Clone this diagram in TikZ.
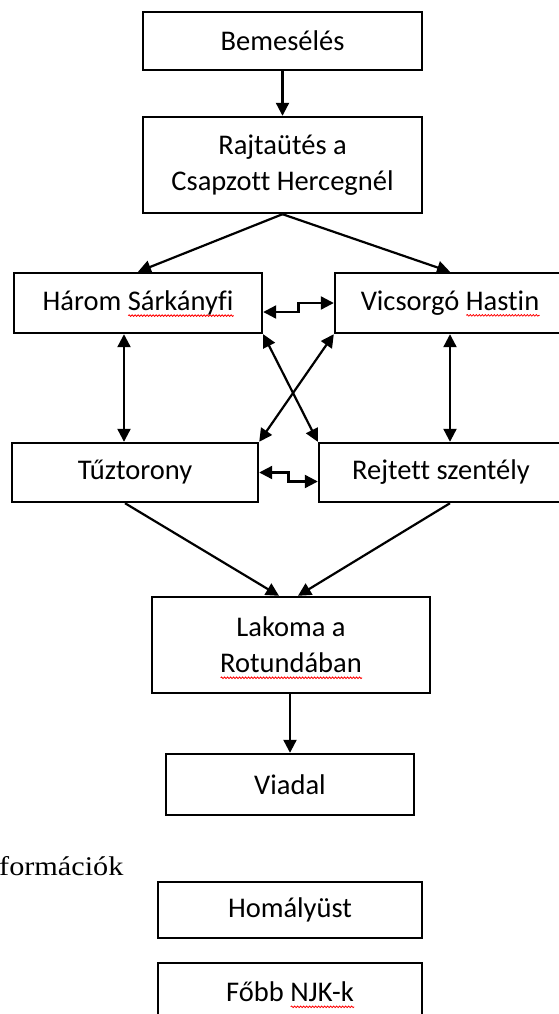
\documentclass[tikz,border=0pt]{standalone}
\usepackage{fontspec}
\usepackage{graphicx}
\setmainfont[Ligatures=NoCommon]{Carlito}
\newfontfamily\seriffnt{Liberation Serif}
\usetikzlibrary{arrows.meta,calc,decorations.pathmorphing}
\newsavebox\spbox
\newcommand\spellerr[1]{\sbox\spbox{#1}\rlap{\smash{\tikz[baseline=0pt]\draw[red,line width=0.8pt,decorate,decoration={snake,amplitude=0.8pt,segment length=3pt}] (0pt,-5pt) -- (\the\wd\spbox,-5pt);}}\usebox\spbox}
\begin{document}
\begin{tikzpicture}[x=1pt,y=-1pt,
  box/.style={draw,line width=2.4pt,inner sep=0pt,align=center,font=\fontsize{28.5}{36}\selectfont},
  >={Triangle[length=13pt,width=13pt]},
  conn/.style={line width=2.2pt,->},
  bicon/.style={line width=2.2pt,<->}]
\path[use as bounding box] (0,0) rectangle (559,1014);
\clip (0,0) rectangle (559,1014);
\node[box,minimum width=279pt,minimum height=58pt] (bem) at (282.5,41) {Bemesélés};
\node[box,minimum width=279pt,minimum height=96pt] (raj) at (282.5,165) {Rajtaütés a\\Csapzott Hercegnél};
\node[box,minimum width=248pt,minimum height=60pt] (har) at (138,303) {Három \spellerr{Sárkányfi}};
\node[box,minimum width=230pt,minimum height=60pt] (vic) at (450,303) {Vicsorgó \spellerr{Hastin}};
\node[box,minimum width=246pt,minimum height=59pt] (tuz) at (135,472.5) {Tűztorony};
\node[box,minimum width=244pt,minimum height=59pt] (rej) at (441,472.5) {Rejtett szentély};
\node[box,minimum width=278pt,minimum height=96pt] (lak) at (291,645) {Lakoma a\\\spellerr{Rotundában}};
\node[box,minimum width=248pt,minimum height=61pt] (via) at (290,784.5) {Viadal};
\node[anchor=base west,inner sep=0pt,font=\seriffnt\fontsize{27}{30}\selectfont] (inf) at (-1,875) {\scalebox{1.12}[1]{formációk}};
\node[box,minimum width=264pt,minimum height=56pt] (hom) at (290,910) {Homályüst};
\node[box,minimum width=264pt,minimum height=58pt] (fob) at (290,992) {Főbb \spellerr{NJK-k}};
\draw[conn] (bem) -- (raj);
\draw[conn] (raj.south) -- (har.north);
\draw[conn] (raj.south) -- (vic.north);
\coordinate (m1) at ($(har.east)!0.5!(vic.west)$);
\draw[bicon] ([yshift=-9pt]har.east) -| (m1) -- (vic.west);
\draw[bicon] ([xshift=-14pt]har.south) -- ([xshift=-14pt]har.south |- tuz.north);
\draw[bicon] (vic.south) -- (vic.south |- rej.north);
\draw[bicon] (har.south east) -- (rej.north west);
\draw[bicon] (vic.south west) -- (tuz.north east);
\coordinate (m2) at ($(tuz.east)!0.5!(rej.west)$);
\draw[bicon] (tuz.east) -- (m2) |- ([yshift=-9pt]rej.west);
\draw[conn] ([xshift=-10pt]tuz.south) -- ([xshift=-12pt]lak.north);
\draw[conn] ([xshift=9pt]rej.south) -- ([xshift=7pt]lak.north);
\draw[conn] (via.north |- lak.south) -- (via.north);
\end{tikzpicture}
\end{document}
